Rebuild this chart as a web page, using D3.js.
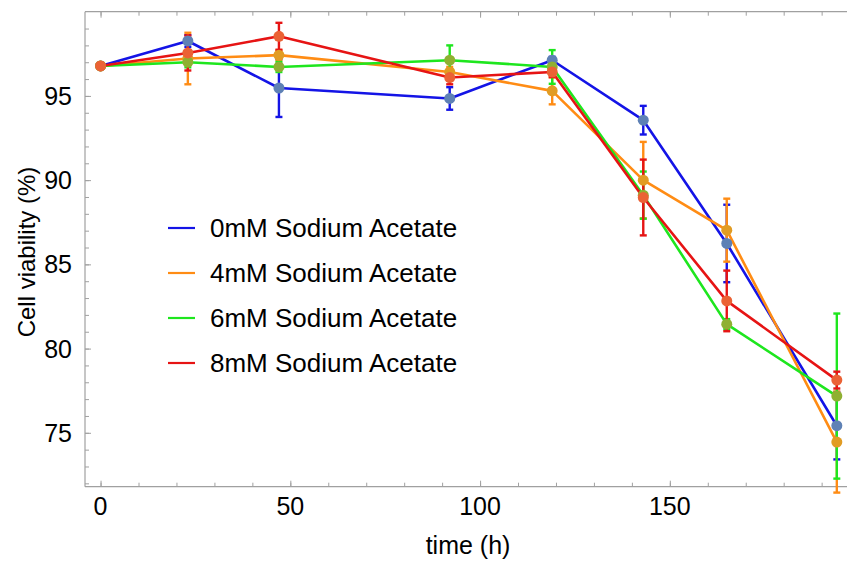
<!DOCTYPE html>
<html><head><meta charset="utf-8">
<script src="https://cdn.jsdelivr.net/npm/d3@7"></script>
<style>body{margin:0;background:#fff}svg{display:block}text{font-family:"Liberation Sans",Arial,Helvetica,sans-serif;fill:#000}</style>
</head><body>
<script>
const times = [0, 23, 47, 92, 119, 143, 165, 194];
const seriesNames = ["0mM Sodium Acetate","4mM Sodium Acetate","6mM Sodium Acetate","8mM Sodium Acetate"];
const v0 = [96.78, 98.26, 95.47, 94.85, 97.12, 93.56, 86.24, 75.42];
const e0 = [0, 0.35, 1.72, 0.67, 0.2, 0.85, 2.3, 2.0];
const v4 = [96.78, 97.22, 97.42, 96.42, 95.3, 90.0, 87.03, 74.45];
const e4 = [0, 1.53, 0.3, 0.3, 0.8, 2.27, 1.87, 3.0];
const v6 = [96.78, 97.0, 96.72, 97.12, 96.72, 89.11, 81.45, 77.18];
const e6 = [0, 0.3, 0.3, 0.88, 1.0, 1.4, 0.3, 4.9];
const v8 = [96.78, 97.55, 98.54, 96.09, 96.42, 88.97, 82.83, 78.13];
const e8 = [0, 1.04, 0.8, 0.4, 0.3, 2.25, 1.8, 0.5];
const lineColors = ["#1414e6","#ff8c14","#1ee61e","#e61414"];
const pointColors = ["#5e81b5","#e19c24","#8fb032","#eb6235"];
const xTicks = [0, 50, 100, 150];
const yTicks = [75, 80, 85, 90, 95];

const values = [v0, v4, v6, v8];
const errors = [e0, e4, e6, e8];

const W = 847, H = 561;
const svg = d3.select("body").append("svg").attr("width", W).attr("height", H);
const x = d3.scaleLinear().domain([-4.1, 198]).range([85, 852]);
const y = d3.scaleLinear().domain([71.8, 100]).range([486.7, 11.7]);

const frame = "#a0a0a0";
svg.append("line").attr("x1",85).attr("x2",852).attr("y1",486.7).attr("y2",486.7).attr("stroke",frame).attr("stroke-width",1.2);
svg.append("line").attr("x1",85).attr("x2",852).attr("y1",11.7).attr("y2",11.7).attr("stroke",frame).attr("stroke-width",1.2);
svg.append("line").attr("x1",85).attr("x2",85).attr("y1",11.7).attr("y2",486.7).attr("stroke",frame).attr("stroke-width",1.2);

const xMinor = d3.range(0, 200, 10);
const xb = svg.append("g").attr("transform","translate(0,486.7)")
  .call(d3.axisTop(x).tickValues(xMinor).tickSize(4).tickFormat(""));
const xbM = svg.append("g").attr("transform","translate(0,486.7)")
  .call(d3.axisTop(x).tickValues(xTicks).tickSize(6).tickFormat(""));
const xt = svg.append("g").attr("transform","translate(0,11.7)")
  .call(d3.axisBottom(x).tickValues(xMinor).tickSize(4).tickFormat(""));
const xtM = svg.append("g").attr("transform","translate(0,11.7)")
  .call(d3.axisBottom(x).tickValues(xTicks).tickSize(6).tickFormat(""));
const yMinor = d3.range(72, 100, 1);
const yl = svg.append("g").attr("transform","translate(85,0)")
  .call(d3.axisRight(y).tickValues(yMinor).tickSize(4).tickFormat(""));
const ylM = svg.append("g").attr("transform","translate(85,0)")
  .call(d3.axisRight(y).tickValues(yTicks).tickSize(6).tickFormat(""));
[xb,xbM,xt,xtM,yl,ylM].forEach(g=>{g.select(".domain").remove();g.selectAll("line").attr("stroke",frame).attr("stroke-width",1);});

svg.append("g").selectAll("text").data(xTicks).join("text")
  .attr("x", d=>x(d)).attr("y", 515).attr("text-anchor","middle").attr("font-size",25).text(d=>d);
svg.append("g").selectAll("text").data(yTicks).join("text")
  .attr("x", 72).attr("y", d=>y(d)+9).attr("text-anchor","end").attr("font-size",25).text(d=>d);

svg.append("text").attr("x",468).attr("y",554).attr("text-anchor","middle").attr("font-size",25).text("time (h)");
svg.append("text").attr("transform","translate(35,252) rotate(-90)").attr("text-anchor","middle").attr("font-size",24).text("Cell viability (%)");

const line = d3.line().x((d,i)=>x(times[i])).y(d=>y(d));
values.forEach((vals,s)=>{
  svg.append("path").datum(vals).attr("d",line).attr("fill","none").attr("stroke",lineColors[s]).attr("stroke-width",2.6).attr("stroke-linejoin","round");
});
values.forEach((vals,s)=>{
  const g = svg.append("g").attr("stroke",lineColors[s]).attr("stroke-width",2.4);
  vals.forEach((v,i)=>{
    const e = errors[s][i];
    if (e <= 0) return;
    const cx = x(times[i]);
    g.append("line").attr("x1",cx).attr("x2",cx).attr("y1",y(v-e)).attr("y2",y(v+e));
    g.append("line").attr("x1",cx-3.5).attr("x2",cx+3.5).attr("y1",y(v-e)).attr("y2",y(v-e));
    g.append("line").attr("x1",cx-3.5).attr("x2",cx+3.5).attr("y1",y(v+e)).attr("y2",y(v+e));
  });
});
values.forEach((vals,s)=>{
  svg.append("g").selectAll("circle").data(vals).join("circle")
    .attr("cx",(d,i)=>x(times[i])).attr("cy",d=>y(d)).attr("r",5.5).attr("fill",pointColors[s]);
});

const legY = [228, 273, 318, 363];
seriesNames.forEach((n,s)=>{
  svg.append("line").attr("x1",168).attr("x2",195).attr("y1",legY[s]).attr("y2",legY[s]).attr("stroke",lineColors[s]).attr("stroke-width",2.2);
  svg.append("text").attr("x",210).attr("y",legY[s]+9).attr("font-size",26).text(n);
});
</script>
</body></html>
